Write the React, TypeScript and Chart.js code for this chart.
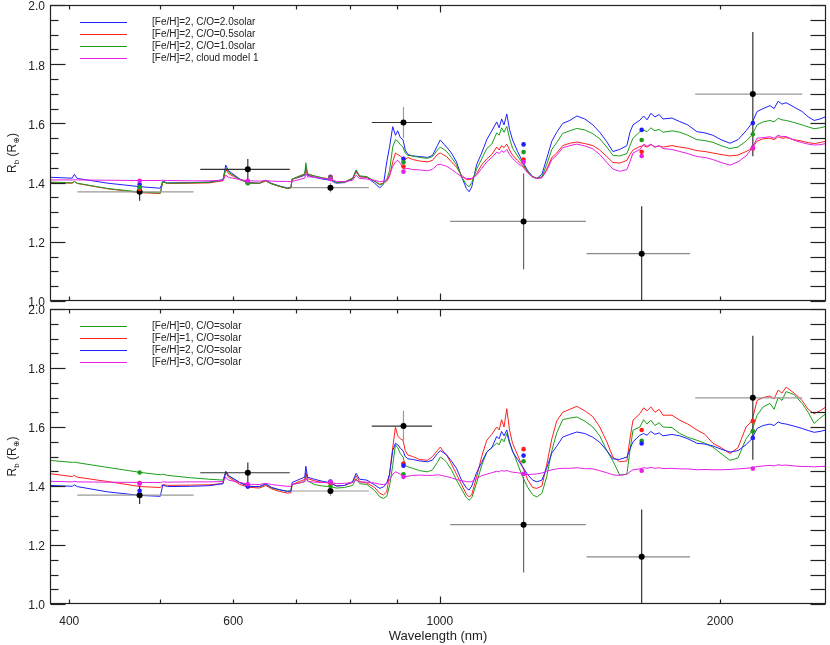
import { useEffect, useRef } from 'react';
import { Chart, registerables } from 'chart.js';

Chart.register(...registerables);

const FONT = '"Liberation Sans", "DejaVu Sans", sans-serif';
const BLUE = '#1f1fff';
const RED = '#ff1f1f';
const GREEN = '#1a9e1a';
const MAGENTA = '#e61ee6';

// Model wavelength grid (nm)
const wavelengths = [
  381, 403, 405, 408, 440, 477, 501, 504, 510, 540,
  565, 585, 589, 593, 610, 623, 640, 650, 660, 672,
  686, 692, 694, 706, 716, 718, 721, 733, 748, 763,
  774, 790, 806, 813, 820, 835, 851, 862, 870, 877,
  883, 890, 896, 901, 907, 913, 918, 924, 935, 951,
  970, 982, 994, 1001, 1010, 1017, 1029, 1042, 1055, 1068,
  1075, 1082, 1095, 1109, 1123, 1137, 1151, 1158, 1165, 1172,
  1180, 1188, 1197, 1212, 1227, 1243, 1258, 1271, 1287, 1302,
  1319, 1335, 1355, 1379, 1403, 1431, 1460, 1485, 1511, 1534,
  1560, 1588, 1600, 1612, 1640, 1655, 1669, 1685, 1702, 1720,
  1736, 1775, 1810, 1846, 1888, 1926, 1964, 2004, 2049, 2090,
  2132, 2163, 2191, 2224, 2262, 2285, 2308, 2330, 2354, 2401,
  2449, 2486, 2523, 2560, 2598,
];

// [Fe/H]=2, C/O=2.0 solar
const coRatio2 = [
  1.418, 1.415, 1.428, 1.414, 1.398, 1.386, 1.381, 1.405, 1.399, 1.400,
  1.402, 1.410, 1.459, 1.440, 1.412, 1.400, 1.398, 1.408, 1.397, 1.389,
  1.382, 1.384, 1.412, 1.418, 1.425, 1.452, 1.425, 1.418, 1.412, 1.408,
  1.398, 1.400, 1.412, 1.440, 1.420, 1.418, 1.398, 1.382, 1.395, 1.470,
  1.520, 1.589, 1.560, 1.575, 1.552, 1.545, 1.510, 1.495, 1.490, 1.488,
  1.485, 1.492, 1.525, 1.544, 1.530, 1.520, 1.500, 1.470, 1.420, 1.380,
  1.369, 1.385, 1.460, 1.500, 1.545, 1.575, 1.605, 1.585, 1.615, 1.595,
  1.632, 1.580, 1.544, 1.505, 1.471, 1.440, 1.420, 1.414, 1.428, 1.480,
  1.540, 1.570, 1.600, 1.610, 1.625, 1.615, 1.595, 1.570, 1.538, 1.505,
  1.512, 1.525, 1.570, 1.595, 1.611, 1.625, 1.612, 1.634, 1.622, 1.630,
  1.615, 1.618, 1.606, 1.595, 1.572, 1.568, 1.560, 1.545, 1.533, 1.545,
  1.575, 1.600, 1.640, 1.650, 1.660, 1.650, 1.675, 1.665, 1.670, 1.655,
  1.640, 1.622, 1.610, 1.615, 1.623,
];

// [Fe/H]=2, C/O=0.5 solar
const coRatio05 = [
  1.400, 1.398, 1.404, 1.397, 1.379, 1.366, 1.363, 1.402, 1.397, 1.398,
  1.399, 1.406, 1.445, 1.430, 1.410, 1.399, 1.397, 1.405, 1.396, 1.387,
  1.380, 1.382, 1.410, 1.420, 1.428, 1.445, 1.428, 1.422, 1.416, 1.412,
  1.401, 1.402, 1.414, 1.436, 1.420, 1.418, 1.405, 1.395, 1.398, 1.405,
  1.420, 1.470, 1.500, 1.495, 1.490, 1.480, 1.478, 1.485, 1.478, 1.473,
  1.470, 1.475, 1.495, 1.500, 1.493, 1.488, 1.470, 1.452, 1.425, 1.410,
  1.410, 1.412, 1.430, 1.460, 1.480, 1.495, 1.520, 1.510, 1.525, 1.518,
  1.530, 1.510, 1.493, 1.475, 1.459, 1.436, 1.420, 1.415, 1.418, 1.445,
  1.485, 1.500, 1.525, 1.533, 1.537, 1.532, 1.525, 1.510, 1.488, 1.468,
  1.466, 1.475, 1.495, 1.510, 1.522, 1.525, 1.520, 1.528, 1.520, 1.524,
  1.520, 1.525, 1.520, 1.516, 1.508, 1.505, 1.500, 1.495, 1.490, 1.493,
  1.505, 1.515, 1.540, 1.548, 1.550, 1.545, 1.555, 1.550, 1.552, 1.545,
  1.540, 1.535, 1.532, 1.535, 1.540,
];

// [Fe/H]=2, C/O=1.0 solar (same model in both panels)
const feh2Solar = [
  1.402, 1.399, 1.404, 1.398, 1.380, 1.368, 1.365, 1.403, 1.398, 1.399,
  1.401, 1.408, 1.450, 1.435, 1.411, 1.398, 1.398, 1.407, 1.395, 1.388,
  1.381, 1.383, 1.412, 1.422, 1.430, 1.467, 1.430, 1.423, 1.416, 1.411,
  1.400, 1.402, 1.415, 1.443, 1.423, 1.420, 1.404, 1.392, 1.397, 1.410,
  1.440, 1.520, 1.545, 1.540, 1.528, 1.520, 1.500, 1.492, 1.490, 1.485,
  1.482, 1.488, 1.510, 1.520, 1.512, 1.505, 1.485, 1.460, 1.420, 1.393,
  1.386, 1.400, 1.445, 1.480, 1.515, 1.530, 1.568, 1.560, 1.585, 1.570,
  1.590, 1.550, 1.516, 1.490, 1.465, 1.438, 1.420, 1.414, 1.420, 1.460,
  1.512, 1.535, 1.566, 1.575, 1.583, 1.578, 1.565, 1.548, 1.520, 1.492,
  1.490, 1.498, 1.525, 1.550, 1.572, 1.578, 1.572, 1.585, 1.575, 1.580,
  1.570, 1.575, 1.570, 1.560, 1.545, 1.542, 1.536, 1.525, 1.515, 1.520,
  1.540, 1.560, 1.595, 1.605, 1.610, 1.605, 1.617, 1.612, 1.610, 1.603,
  1.595, 1.588, 1.582, 1.585, 1.590,
];

// [Fe/H]=2, cloud model 1
const cloudModel1 = [
  1.409, 1.409, 1.410, 1.409, 1.408, 1.407, 1.407, 1.408, 1.407, 1.406,
  1.406, 1.407, 1.425, 1.418, 1.410, 1.406, 1.405, 1.407, 1.405, 1.404,
  1.404, 1.403, 1.404, 1.410, 1.415, 1.430, 1.420, 1.418, 1.414, 1.411,
  1.404, 1.403, 1.408, 1.425, 1.414, 1.412, 1.408, 1.403, 1.405, 1.410,
  1.425, 1.455, 1.470, 1.475, 1.465, 1.450, 1.446, 1.448, 1.444, 1.443,
  1.440, 1.445, 1.460, 1.462, 1.458, 1.455, 1.445, 1.432, 1.420, 1.414,
  1.414, 1.414, 1.425, 1.448, 1.470, 1.485, 1.503, 1.498, 1.508, 1.502,
  1.512, 1.495, 1.482, 1.465, 1.454, 1.432, 1.418, 1.414, 1.416, 1.440,
  1.478, 1.492, 1.518, 1.525, 1.530, 1.524, 1.514, 1.495, 1.468, 1.446,
  1.438, 1.444, 1.470, 1.500, 1.512, 1.530, 1.523, 1.530, 1.520, 1.525,
  1.515, 1.512, 1.505, 1.498, 1.488, 1.485, 1.478, 1.468, 1.459, 1.470,
  1.490, 1.515, 1.550, 1.552, 1.555, 1.550, 1.560, 1.555, 1.556, 1.543,
  1.535, 1.530, 1.527, 1.528, 1.532,
];

// [Fe/H]=0, C/O=solar
const feh0 = [
  1.487, 1.480, 1.481, 1.479, 1.463, 1.446, 1.438, 1.440, 1.436, 1.428,
  1.423, 1.420, 1.448, 1.435, 1.412, 1.400, 1.397, 1.405, 1.393, 1.387,
  1.383, 1.384, 1.405, 1.410, 1.415, 1.445, 1.418, 1.405, 1.400, 1.398,
  1.393, 1.395, 1.402, 1.425, 1.408, 1.405, 1.385, 1.363, 1.358, 1.365,
  1.400, 1.470, 1.540, 1.530, 1.510, 1.498, 1.470, 1.465, 1.460, 1.452,
  1.448, 1.455, 1.480, 1.498, 1.490, 1.480, 1.455, 1.420, 1.390, 1.360,
  1.352, 1.360, 1.410, 1.470, 1.515, 1.530, 1.545, 1.540, 1.560, 1.550,
  1.578, 1.545, 1.521, 1.475, 1.431, 1.395, 1.370, 1.363, 1.375, 1.430,
  1.520, 1.580, 1.625, 1.630, 1.634, 1.620, 1.600, 1.570, 1.520, 1.485,
  1.437, 1.440, 1.520, 1.589, 1.600, 1.625, 1.610, 1.623, 1.605, 1.615,
  1.600, 1.598, 1.578, 1.565, 1.555, 1.545, 1.532, 1.510, 1.487, 1.495,
  1.560, 1.586, 1.640, 1.668, 1.680, 1.660, 1.700, 1.690, 1.720, 1.710,
  1.680, 1.650, 1.612, 1.630, 1.645,
];

// [Fe/H]=1, C/O=solar
const feh1 = [
  1.442, 1.432, 1.436, 1.430, 1.415, 1.398, 1.395, 1.405, 1.402, 1.403,
  1.404, 1.408, 1.445, 1.430, 1.405, 1.396, 1.393, 1.402, 1.390, 1.382,
  1.376, 1.377, 1.405, 1.415, 1.422, 1.445, 1.425, 1.418, 1.412, 1.410,
  1.400, 1.402, 1.412, 1.435, 1.415, 1.410, 1.395, 1.375, 1.370, 1.380,
  1.440, 1.530, 1.600, 1.570, 1.560, 1.555, 1.520, 1.505, 1.500, 1.490,
  1.487, 1.500, 1.520, 1.532, 1.515, 1.505, 1.475, 1.440, 1.405, 1.372,
  1.363, 1.370, 1.430, 1.500, 1.555, 1.575, 1.600, 1.590, 1.625, 1.600,
  1.662, 1.590, 1.544, 1.505, 1.465, 1.420, 1.395, 1.392, 1.400, 1.470,
  1.560, 1.620, 1.650, 1.660, 1.670, 1.655, 1.635, 1.600, 1.550, 1.498,
  1.482, 1.485, 1.560, 1.623, 1.645, 1.665, 1.655, 1.668, 1.650, 1.660,
  1.640, 1.640, 1.623, 1.610, 1.590, 1.575, 1.545, 1.530, 1.510, 1.530,
  1.600, 1.620, 1.690, 1.700, 1.705, 1.695, 1.725, 1.715, 1.735, 1.715,
  1.690, 1.660, 1.645, 1.655, 1.668,
];

// [Fe/H]=3, C/O=solar
const feh3 = [
  1.416, 1.414, 1.416, 1.414, 1.413, 1.412, 1.412, 1.414, 1.413, 1.414,
  1.414, 1.415, 1.430, 1.420, 1.412, 1.406, 1.405, 1.409, 1.405, 1.402,
  1.399, 1.399, 1.405, 1.410, 1.415, 1.428, 1.416, 1.413, 1.412, 1.412,
  1.408, 1.409, 1.412, 1.420, 1.414, 1.413, 1.410, 1.406, 1.405, 1.408,
  1.420, 1.440, 1.448, 1.445, 1.440, 1.433, 1.432, 1.433, 1.436, 1.437,
  1.436, 1.436, 1.438, 1.437, 1.434, 1.432, 1.428, 1.422, 1.418, 1.415,
  1.414, 1.415, 1.425, 1.435, 1.440, 1.445, 1.450, 1.448, 1.453, 1.450,
  1.453, 1.449, 1.447, 1.445, 1.442, 1.438, 1.440, 1.441, 1.444, 1.450,
  1.455, 1.458, 1.460, 1.460, 1.462, 1.459, 1.458, 1.452, 1.445, 1.438,
  1.436, 1.440, 1.448, 1.455, 1.458, 1.462, 1.460, 1.463, 1.460, 1.462,
  1.459, 1.460, 1.458, 1.458, 1.455, 1.456, 1.455, 1.455, 1.456, 1.458,
  1.460, 1.462, 1.466, 1.468, 1.470, 1.468, 1.472, 1.470, 1.471, 1.468,
  1.466, 1.466, 1.465, 1.466, 1.467,
];

// Observed band-integrated radii
const obsWave = [476, 622, 763, 914, 1230, 1647, 2168];
const obsWaveLo = [408, 553, 692, 845, 1026, 1437, 1880];
const obsWaveHi = [544, 690, 839, 981, 1435, 1856, 2450];
const obsR = [1.369, 1.445, 1.383, 1.603, 1.269, 1.160, 1.699];
const obsRErr = [0.030, 0.035, 0.016, 0.052, 0.162, 0.160, 0.210];

// Band-averaged model values at the observed bands
const coRatio2Binned = [1.394, 1.400, 1.420, 1.480, 1.529, 1.578, 1.601];
const coRatio05Binned = [1.378, 1.399, 1.418, 1.454, 1.478, 1.504, 1.515];
const feh2SolarBinned = [1.384, 1.398, 1.415, 1.469, 1.503, 1.544, 1.563];
const cloudModel1Binned = [1.406, 1.406, 1.412, 1.437, 1.470, 1.490, 1.518];
const feh0Binned = [1.446, 1.400, 1.400, 1.440, 1.484, 1.553, 1.586];
const feh1Binned = [1.410, 1.400, 1.410, 1.476, 1.525, 1.590, 1.620];
const feh3Binned = [1.408, 1.406, 1.413, 1.431, 1.441, 1.452, 1.459];

// Axis ticks
const X_MIN = 381.4;
const X_MAX = 2598;
const xTickValues = [400, 500, 600, 700, 800, 900, 1000, 2000];
const xTickLabels = [400, 600, 1000, 2000];
const yTickValues = [
  1.0, 1.05, 1.1, 1.15, 1.2, 1.25, 1.3, 1.35, 1.4, 1.45, 1.5,
  1.55, 1.6, 1.65, 1.7, 1.75, 1.8, 1.85, 1.9, 1.95, 2.0,
];
const yTickLabels = [1.0, 1.2, 1.4, 1.6, 1.8, 2.0];

// Error bar styling (per observed point)
const xErrColors = ['#9a9a9a', '#333333', '#9a9a9a', '#333333', '#8a8a8a', '#8a8a8a', '#9a9a9a'];
const yErrColors = ['#333333', '#333333', '#9a9a9a', '#9a9a9a', '#666666', '#333333', '#333333'];

type Series = { label: string; values: number[]; color: string };

const topSeries: Series[] = [
  { label: '[Fe/H]=2, C/O=2.0solar', values: coRatio2, color: BLUE },
  { label: '[Fe/H]=2, C/O=0.5solar', values: coRatio05, color: RED },
  { label: '[Fe/H]=2, C/O=1.0solar', values: feh2Solar, color: GREEN },
  { label: '[Fe/H]=2, cloud model 1', values: cloudModel1, color: MAGENTA },
];
const topBinned = [coRatio2Binned, coRatio05Binned, feh2SolarBinned, cloudModel1Binned];

const bottomSeries: Series[] = [
  { label: '[Fe/H]=0, C/O=solar', values: feh0, color: GREEN },
  { label: '[Fe/H]=1, C/O=solar', values: feh1, color: RED },
  { label: '[Fe/H]=2, C/O=solar', values: feh2Solar, color: BLUE },
  { label: '[Fe/H]=3, C/O=solar', values: feh3, color: MAGENTA },
];
const bottomBinned = [feh0Binned, feh1Binned, feh2SolarBinned, feh3Binned];

function buildDatasets(series: Series[], binned: number[][]): any[] {
  const dots = series
    .map((s, k) => ({
      label: s.label + ' (band)',
      data: obsWave.map((w, i) => ({ x: w, y: binned[k][i] })),
      showLine: false,
      pointRadius: 2.3,
      pointBorderWidth: 0,
      pointBackgroundColor: s.color,
      backgroundColor: s.color,
      borderColor: s.color,
    }))
    .reverse();
  const obs = {
    label: 'Observed',
    data: obsWave.map((w, i) => ({ x: w, y: obsR[i] })),
    showLine: false,
    pointRadius: 3,
    pointBorderWidth: 0,
    pointBackgroundColor: '#000',
    backgroundColor: '#000',
    borderColor: '#000',
    errorBars: true,
  };
  const lines = series
    .map((s) => ({
      label: s.label,
      data: wavelengths.map((w, i) => ({ x: w, y: s.values[i] })),
      showLine: true,
      borderColor: s.color,
      backgroundColor: s.color,
      borderWidth: 1,
      pointRadius: 0,
      fill: false,
      tension: 0,
    }))
    .reverse();
  return [...dots, obs, ...lines];
}

function line(ctx: CanvasRenderingContext2D, x1: number, y1: number, x2: number, y2: number) {
  ctx.beginPath();
  ctx.moveTo(x1, y1);
  ctx.lineTo(x2, y2);
  ctx.stroke();
}

function makeDecor(series: Series[], showX: boolean) {
  return {
    id: 'panelDecor',
    beforeDatasetDraw(chart: any, args: any) {
      const ds = chart.data.datasets[args.index];
      if (!ds || !ds.errorBars) return;
      const { ctx, chartArea: a, scales } = chart;
      const x = scales.x;
      const y = scales.y;
      ctx.save();
      ctx.beginPath();
      ctx.rect(a.left, a.top, a.right - a.left, a.bottom - a.top);
      ctx.clip();
      ctx.lineWidth = 1.2;
      obsWave.forEach((w, i) => {
        const px = x.getPixelForValue(w);
        const py = y.getPixelForValue(obsR[i]);
        ctx.strokeStyle = xErrColors[i];
        line(ctx, x.getPixelForValue(obsWaveLo[i]), py, x.getPixelForValue(obsWaveHi[i]), py);
        ctx.strokeStyle = yErrColors[i];
        line(ctx, px, y.getPixelForValue(obsR[i] - obsRErr[i]), px, y.getPixelForValue(obsR[i] + obsRErr[i]));
      });
      ctx.restore();
    },
    afterDraw(chart: any) {
      const { ctx, chartArea: a, scales } = chart;
      const x = scales.x;
      const y = scales.y;
      ctx.save();
      ctx.strokeStyle = '#222';
      ctx.lineWidth = 1.2;
      const L = Math.round(a.left) + 0.5;
      const R = Math.round(a.right) - 0.5;
      const T = Math.round(a.top) + 0.5;
      const B = Math.round(a.bottom) - 0.5;
      ctx.strokeRect(L, T, R - L, B - T);
      yTickValues.forEach((v) => {
        const py = Math.round(y.getPixelForValue(v)) + 0.5;
        const major = yTickLabels.some((t) => Math.abs(t - v) < 1e-6);
        line(ctx, L, py, L + (major ? 15 : 8), py);
        line(ctx, R - 15, py, R, py);
      });
      xTickValues.forEach((v) => {
        const px = Math.round(x.getPixelForValue(v)) + 0.5;
        const len = v === 1000 ? 7 : 4;
        line(ctx, px, B, px, B - len);
        line(ctx, px, T, px, T + len);
      });

      // legend
      ctx.font = `10px ${FONT}`;
      ctx.textAlign = 'left';
      ctx.textBaseline = 'middle';
      series.forEach((s, i) => {
        const ly = Math.round(a.top + 17 + 12 * i) + 0.5;
        ctx.strokeStyle = s.color;
        ctx.lineWidth = 1;
        line(ctx, 80, ly, 127, ly);
        ctx.fillStyle = '#222';
        ctx.fillText(s.label, 152, ly);
      });

      // y title: R_b (R_⊕)
      const parts = [
        { t: 'R', s: 12, dy: 0 },
        { t: 'b', s: 8, dy: 3 },
        { t: ' (R', s: 12, dy: 0 },
        { t: '⊕', s: 8, dy: 3 },
        { t: ')', s: 12, dy: 0 },
      ];
      ctx.save();
      ctx.translate(16, (a.top + a.bottom) / 2);
      ctx.rotate(-Math.PI / 2);
      ctx.fillStyle = '#222';
      ctx.textBaseline = 'alphabetic';
      let total = 0;
      parts.forEach((p) => {
        ctx.font = `${p.s}px ${FONT}`;
        total += ctx.measureText(p.t).width;
      });
      let cx = -total / 2;
      parts.forEach((p) => {
        ctx.font = `${p.s}px ${FONT}`;
        ctx.fillText(p.t, cx, p.dy);
        cx += ctx.measureText(p.t).width;
      });
      ctx.restore();

      if (showX) {
        ctx.font = `13px ${FONT}`;
        ctx.fillStyle = '#222';
        ctx.textAlign = 'center';
        ctx.textBaseline = 'middle';
        ctx.fillText('Wavelength (nm)', (a.left + a.right) / 2, chart.height - 9);
      }
      ctx.restore();
    },
  };
}

type PanelProps = {
  top: number;
  height: number;
  padTop: number;
  xAxisHeight: number;
  showX: boolean;
  series: Series[];
  binned: number[][];
};

function Panel({ top, height, padTop, xAxisHeight, showX, series, binned }: PanelProps) {
  const ref = useRef<HTMLCanvasElement | null>(null);
  useEffect(() => {
    if (!ref.current) return;
    const chart = new Chart(ref.current, {
      type: 'scatter',
      data: { datasets: buildDatasets(series, binned) },
      options: {
        animation: false,
        responsive: true,
        maintainAspectRatio: false,
        events: [],
        layout: { padding: { top: padTop, right: 4, bottom: 0, left: 0 } },
        plugins: { legend: { display: false }, tooltip: { enabled: false }, title: { display: false } },
        scales: {
          x: {
            type: 'logarithmic',
            min: X_MIN,
            max: X_MAX,
            grid: { display: false, drawTicks: false },
            border: { display: false },
            afterBuildTicks: (s: any) => {
              s.ticks = xTickValues.map((v) => ({ value: v }));
            },
            afterFit: (s: any) => {
              s.height = xAxisHeight;
              s.paddingLeft = 0;
              s.paddingRight = 0;
            },
            ticks: {
              display: showX,
              autoSkip: false,
              maxRotation: 0,
              minRotation: 0,
              padding: 10,
              color: '#222',
              font: { family: FONT, size: 12 },
              callback: (v: any) => (xTickLabels.includes(Number(v)) ? String(v) : ''),
            },
          },
          y: {
            type: 'linear',
            min: 1.0,
            max: 2.0,
            grid: { display: false, drawTicks: false },
            border: { display: false },
            afterBuildTicks: (s: any) => {
              s.ticks = yTickValues.map((v) => ({ value: v }));
            },
            afterFit: (s: any) => {
              s.width = 50;
              s.paddingTop = 0;
              s.paddingBottom = 0;
            },
            ticks: {
              autoSkip: false,
              padding: 5,
              labelOffset: 2,
              color: '#222',
              font: { family: FONT, size: 12 },
              callback: (v: any) => {
                const n = Number(v);
                return yTickLabels.some((t) => Math.abs(t - n) < 1e-6) ? n.toFixed(1) : '';
              },
            },
          },
        },
      } as any,
      plugins: [makeDecor(series, showX)],
    });
    return () => chart.destroy();
  }, []);
  return (
    <div style={{ position: 'absolute', left: 0, top, width: 830, height }}>
      <canvas ref={ref} style={{ display: 'block' }} />
    </div>
  );
}

export default function App() {
  return (
    <div style={{ position: 'absolute', left: 0, top: 0, width: 830, height: 645, background: '#fff', overflow: 'hidden' }}>
      <Panel top={0} height={310} padTop={5} xAxisHeight={9} showX={false} series={topSeries} binned={topBinned} />
      <Panel top={305} height={340} padTop={3.5} xAxisHeight={41} showX={true} series={bottomSeries} binned={bottomBinned} />
    </div>
  );
}
